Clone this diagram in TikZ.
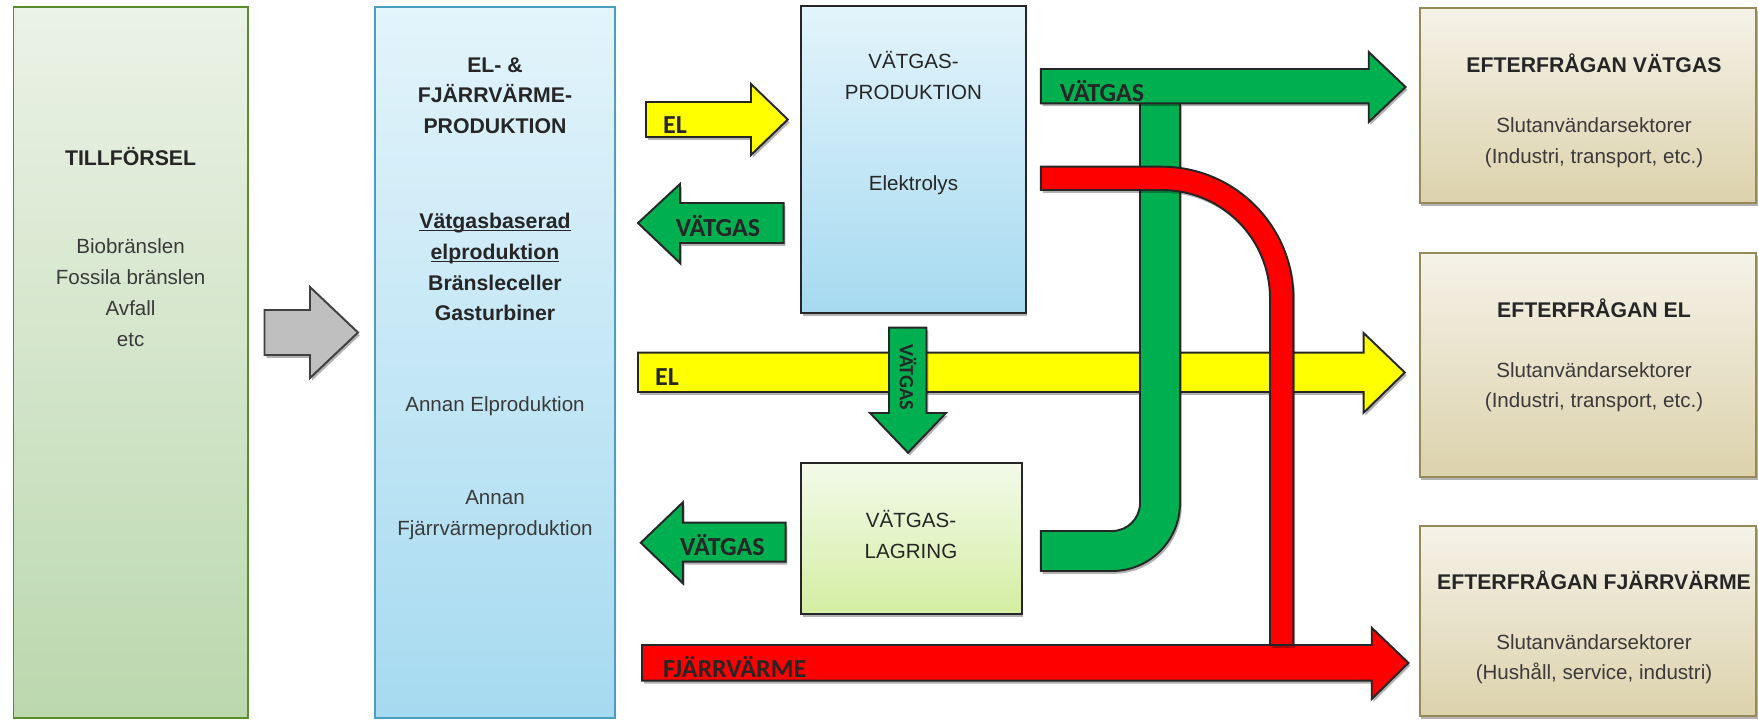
\documentclass[tikz,border=0pt]{standalone}
\usepackage{fontspec}
\setmainfont{Liberation Sans}
\newfontfamily\labelfont{Carlito}
\usetikzlibrary{fit,shadows}

\definecolor{flowgreen}{HTML}{00B050}
\definecolor{flowyellow}{HTML}{FFFF00}
\definecolor{flowred}{HTML}{FF0000}
\definecolor{flowgrey}{HTML}{BFBFBF}
\definecolor{arrowline}{HTML}{262626}
\definecolor{supplytop}{HTML}{EBF2E6}
\definecolor{supplybot}{HTML}{BBD8AE}
\definecolor{supplyline}{HTML}{5B8C2E}
\definecolor{prodtop}{HTML}{E3F4FB}
\definecolor{prodbot}{HTML}{A6DAF0}
\definecolor{prodline}{HTML}{4A9EBF}
\definecolor{storetop}{HTML}{F3FAEA}
\definecolor{storebot}{HTML}{D4EEA2}
\definecolor{demandtop}{HTML}{F5F2E8}
\definecolor{demandbot}{HTML}{DCD2AC}
\definecolor{demandline}{HTML}{958957}
\definecolor{textdark}{HTML}{262626}
\definecolor{textgrey}{HTML}{3A3A3A}

\newcommand{\plaintxt}{\fontsize{11.7}{17.6}\selectfont}
\newcommand{\headtxt}{\fontsize{12.1}{17.6}\selectfont\bfseries}
\newcommand{\flowtxt}{\labelfont\fontsize{14.8}{17}\selectfont\bfseries}
\newcommand{\ulword}[1]{\underline{\raisebox{0pt}[\height][0pt]{#1}}}

\tikzset{
  boxshadow/.style={drop shadow={shadow xshift=1pt, shadow yshift=-1.6pt, opacity=0.3, fill=black}},
  box/.style={inner sep=0pt, line width=1pt},
  supplybox/.style={box, draw=supplyline, top color=supplytop, bottom color=supplybot},
  prodbox/.style={box, draw=prodline, top color=prodtop, bottom color=prodbot},
  vprodbox/.style={box, draw=arrowline, line width=1.1pt, top color=prodtop, bottom color=prodbot, boxshadow},
  storebox/.style={box, draw=arrowline, line width=1.1pt, top color=storetop, bottom color=storebot, boxshadow},
  demandbox/.style={box, draw=demandline, line width=1.2pt, top color=demandtop, bottom color=demandbot, boxshadow},
  flow/.style={draw=arrowline, line width=1.1pt, boxshadow},
  txt/.style={inner sep=0pt, align=center, text=textgrey, font=\plaintxt},
  head/.style={inner sep=0pt, align=center, text=textdark, font=\headtxt},
  flowlabel/.style={inner sep=0pt, text=textdark, font=\flowtxt}
}

\begin{document}
\begin{tikzpicture}[x=0.02cm, y=-0.02cm]
\useasboundingbox (0,0) rectangle (1758,720);

% boxes
\node[supplybox, fit={(13.5,7.3) (247.8,718)}] (supply) {};
\node[prodbox, fit={(374.7,7.3) (615,718)}] (elprod) {};
\node[vprodbox, fit={(801,6) (1025.7,312.7)}] (vprod) {};
\node[storebox, fit={(801,463.3) (1021.6,614)}] (vstore) {};
\node[demandbox, fit={(1419.6,8.3) (1756,202.7)}] (demv) {};
\node[demandbox, fit={(1419.6,253.3) (1756,476.7)}] (demel) {};
\node[demandbox, fit={(1419.6,526) (1756,716)}] (demfv) {};

% texts in the boxes
\node[head] (supplyhead) at (130.6,157) {TILLFÖRSEL};
\node[txt] (supplylist) at (130.6,292.5) {Biobränslen\\Fossila bränslen\\Avfall\\etc};

\node[head] (elhead) at (495,95.7) {EL- \&\\FJÄRRVÄRME-\\PRODUKTION};
\node[head] (elsub) at (495,267) {\ulword{Vätgasbaserad}\\\ulword{elproduktion}\\Bränsleceller\\Gasturbiner};
\node[txt] (elother) at (495,406) {Annan Elproduktion};
\node[txt] (fvother) at (495,515) {Annan\\Fjärrvärmeproduktion};

\node[txt, text=textdark] (vprodhead) at (913.5,75.5) {VÄTGAS-\\PRODUKTION};
\node[txt, text=textdark] (vprodsub) at (913.5,185) {Elektrolys};
\node[txt, text=textdark] (vstorehead) at (911,534.5) {VÄTGAS-\\LAGRING};

\node[head] (demvhead) at (1594,63.3) {EFTERFRÅGAN VÄTGAS};
\node[txt] (demvsub) at (1594,142.5) {Slutanvändarsektorer\\(Industri, transport, etc.)};
\node[head] (demelhead) at (1594,308.3) {EFTERFRÅGAN EL};
\node[txt] (demelsub) at (1594,387.2) {Slutanvändarsektorer\\(Industri, transport, etc.)};
\node[head] (demfvhead) at (1594,580.7) {EFTERFRÅGAN FJÄRRVÄRME};
\node[txt] (demfvsub) at (1594,659.2) {Slutanvändarsektorer\\(Hushåll, service, industri)};

% supply arrow
\draw[flow, draw=black!75, fill=flowgrey] (264.5,310) -- (310,310) -- (310,287) -- (358,332.5)
  -- (310,378) -- (310,355) -- (264.5,355) -- cycle;

% small arrows at the production boxes
\draw[flow, fill=flowyellow] (646,102) -- (751,102) -- (751,84) -- (787.8,119.5)
  -- (751,155) -- (751,137) -- (646,137) -- cycle;
\draw[flow, fill=flowgreen] (783.7,203) -- (680,203) -- (680,184) -- (638,223)
  -- (680,263) -- (680,243) -- (783.7,243) -- cycle;
\draw[flow, fill=flowgreen] (785.7,522.7) -- (682.9,522.7) -- (682.9,502.3) -- (640.8,542.7)
  -- (682.9,583.3) -- (682.9,561.7) -- (785.7,561.7) -- cycle;
\node[flowlabel] (elinlbl) at (675,125) {EL};
\node[flowlabel] (vbacklbl) at (718,226) {VÄTGAS};
\node[flowlabel] (vstorelbl) at (722.4,545) {VÄTGAS};

% long arrows to the demand boxes
\draw[flow, fill=flowyellow] (638,352.7) -- (1363.6,352.7) -- (1363.6,333) -- (1404.8,372.5)
  -- (1363.6,412.7) -- (1363.6,392) -- (638,392) -- cycle;
\node[flowlabel] (ellbl) at (667,376.7) {EL};

\draw[flow, fill=flowgreen] (889,327.7) -- (926.5,327.7) -- (926.5,413) -- (946,413)
  -- (908,452.7) -- (870,413) -- (889,413) -- cycle;
\node[flowlabel, font=\labelfont\fontsize{11.5}{13}\selectfont\bfseries, rotate=-90] (vdownlbl) at (908,377) {VÄTGAS};

\draw[flow, fill=flowred] (642,645) -- (1371.7,645) -- (1371.7,627.7) -- (1408.5,662.9)
  -- (1371.7,699) -- (1371.7,680.7) -- (642,680.7) -- cycle;
\node[flowlabel] (fvlbl) at (734.7,667) {FJÄRRVÄRME};

% green pipe from storage
\draw[flow, fill=flowgreen] (1040.8,531) -- (1112,531) .. controls (1127.5,531) and (1140,518.5) .. (1140,503)
  -- (1140,103) -- (1180,103) -- (1180,503) .. controls (1180,540.6) and (1149.6,571) .. (1112,571)
  -- (1040.8,571) -- cycle;
\draw[flow, fill=flowgreen] (1040.8,69) -- (1368.7,69) -- (1368.7,52) -- (1405.6,87)
  -- (1368.7,122) -- (1368.7,103.3) -- (1040.8,103.3) -- cycle;
\node[flowlabel] (vtoplbl) at (1102,91) {VÄTGAS};

% red pipe
\draw[flow, fill=flowred] (1040.8,166.7) -- (1161.7,166.7) .. controls (1234.4,166.7) and (1293.4,225.6) .. (1293.4,298.3)
  -- (1293.4,645) -- (1270,645) -- (1270,298.3) .. controls (1270,238.5) and (1221.5,190) .. (1161.7,190)
  -- (1040.8,190) -- cycle;
\end{tikzpicture}
\end{document}
